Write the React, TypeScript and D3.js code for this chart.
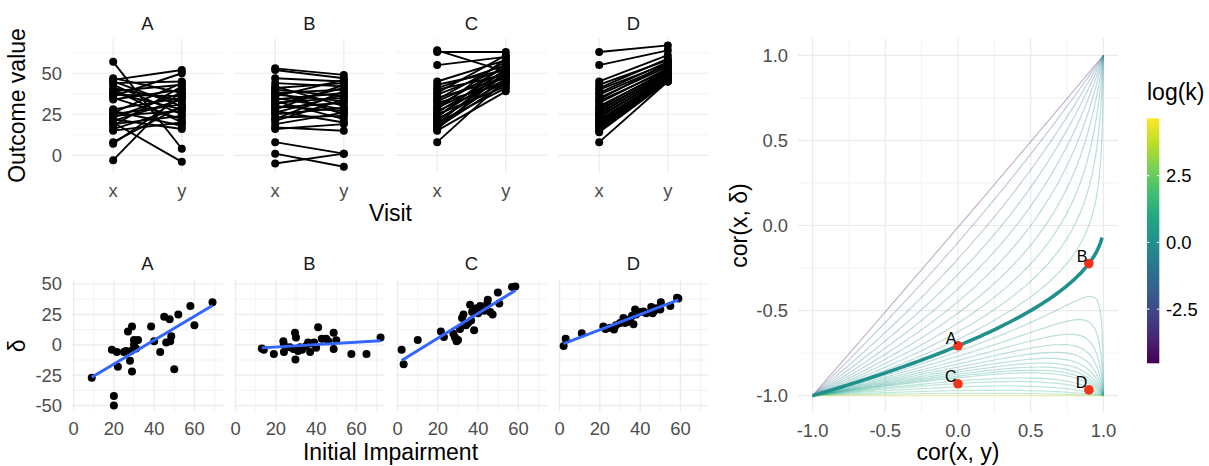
import React from "react";
import * as d3 from "d3";

// ---- data ----
const GROUPS = ["A", "B", "C", "D"];
const VISITS = ["x", "y"];

// top row: [visit x, visit y] per subject
const TOP_A = [[57, 4], [47, 38], [46, 52], [45, 30], [44, 45], [43, 25], [41, 33], [40, 20], [39, 43], [38, 28], [37, 36], [36, 50], [35, 22], [34, 40], [28, 35], [27, 18], [26, 44], [25, 31], [24, 27], [23, 38], [22, 16], [21, 34], [20, -4], [19, 24], [18, 42], [16, 29], [15, 20], [8, 30], [7, 36], [-3, 40]];
const TOP_B = [[53, 49], [52, 47], [47, 45], [44, 42], [42, 30], [41, 44], [40, 36], [39, 25], [38, 40], [37, 33], [36, 46], [35, 28], [34, 38], [33, 22], [32, 35], [31, 41], [30, 27], [29, 32], [28, 43], [27, 20], [26, 37], [25, 29], [23, 24], [22, 39], [21, 34], [19, 26], [17, 15], [16, 19], [8, 1], [1, -7], [-5, 1]];
const TOP_C = [[64, 51], [63, 63], [55, 60], [45, 58], [43, 52], [41, 55], [40, 49], [38, 61], [37, 53], [35, 47], [34, 57], [33, 51], [32, 44], [30, 54], [29, 48], [28, 59], [27, 46], [26, 52], [25, 42], [24, 50], [23, 56], [22, 45], [21, 49], [20, 41], [19, 53], [18, 47], [17, 44], [16, 51], [15, 39], [8, 46]];
const TOP_D = [[63, 67], [55, 64], [45, 61], [43, 58], [41, 59], [40, 56], [38, 57], [37, 55], [35, 54], [34, 56], [33, 52], [32, 53], [30, 51], [29, 52], [28, 50], [27, 51], [26, 49], [25, 50], [24, 48], [23, 49], [22, 47], [21, 48], [20, 47], [19, 46], [18, 47], [17, 46], [16, 45], [15, 46], [14, 45], [8, 45]];

// bottom row: [initial impairment, delta]
const BOT_A = [[9, -27], [20, -42], [20, -50], [19, -4], [21.5, -6], [22, -18], [27, 11], [29, 15], [26, -5], [28, -13], [29, -22], [30, 4], [31, -3], [28.5, -5], [38.5, 15], [40, 3], [43, -6], [45, 23], [47.7, 21], [46, 2], [48, 3], [48.5, 7], [50, -20], [52, 25], [58, 32], [60, 16], [69, 35], [32, 4], [30, 0], [25, -6]];
const BOT_B = [[13, -3], [14, -4], [19, -7.5], [23.7, 3], [24, -6], [24, 0], [29.5, 10], [30, 6], [29.7, -12], [28.7, -3.5], [32, -2], [33, -4], [36, 2], [37, -6], [38, 1], [40, -2.5], [41, 14.5], [42.8, 5], [45, 5], [46, 3], [48.7, 10], [48.7, -3.5], [50, 3.7], [57.5, -7.5], [65, -7.5], [72, 6], [27, -2], [35, -1], [31, -5], [39, 2]];
const BOT_C = [[2, -4], [3, -16], [10, 4], [21.5, 11], [23, 6.5], [27.7, 9], [28.5, 6], [29.3, 3], [31, 13], [32, 22], [32.7, 25], [34, 16], [35, 18], [36, 33], [36.5, 20], [38, 12], [39.3, 30], [41, 32], [43, 28], [44.8, 37], [44.5, 34], [46, 27], [47.2, 25], [49.8, 43], [50.5, 34], [56.8, 47.6], [58.5, 48], [30, 4], [37, 27], [40, 26]];
const BOT_D = [[2, -1], [3, 5], [11, 9.5], [21.7, 15], [22.8, 13], [25, 14], [27, 12.5], [28, 16], [30, 18], [31.7, 22], [32.5, 18], [33, 20], [35, 21], [36, 24], [36.7, 17], [37.5, 29], [38, 25], [40, 27], [41.7, 27.4], [43, 26], [45.5, 31], [46.2, 26], [47, 28], [48, 30], [50.3, 35], [50, 29], [55, 32], [58.3, 38.7], [59, 38], [34, 19]];

const TOP = [TOP_A, TOP_B, TOP_C, TOP_D];
const BOT = [BOT_A, BOT_B, BOT_C, BOT_D];

const TOP_Y_MAJOR = [0, 25, 50];
const TOP_Y_MINOR = [12.5, 37.5, 62.5];
const BOT_X_MAJOR = [0, 20, 40, 60];
const BOT_X_MINOR = [10, 30, 50, 70];
const BOT_Y_MAJOR = [-50, -25, 0, 25, 50];
const BOT_Y_MINOR = [-37.5, -12.5, 12.5, 37.5];

// right panel: ratio k of the two sds, one curve per k
const K_UPPER = [0.01, 0.1, 0.2, 0.3, 0.4, 0.5, 0.6, 0.7, 0.8, 0.9];
const K_LOWER = [1.1, 1.2, 1.3, 1.4, 1.5, 1.6, 1.7, 1.8, 1.9, 2.0, 2.25, 2.5, 3, 4, 6, 100];
const K_MAIN = 1;
const R_STEPS = d3.range(-1, 0.9, 0.02).concat([0.9, 0.92, 0.94, 0.95, 0.96, 0.97, 0.98, 0.985, 0.99, 0.995, 0.998, 1]);
const MARKED = [
  { label: "A", r: 0, c: -0.707 },
  { label: "B", r: 0.9, c: -0.224 },
  { label: "C", r: 0, c: -0.93 },
  { label: "D", r: 0.9, c: -0.966 },
];
const COR_TICKS = [-1, -0.5, 0, 0.5, 1];
const COR_MINOR = [-0.75, -0.25, 0.25, 0.75];
const LEGEND_TICKS = [2.5, 0, -2.5];
const LOGK_RANGE = [Math.log(0.01), Math.log(100)];

const FONT = "'Liberation Sans', Arial, Helvetica, sans-serif";
const GRID = "#EBEBEB";
const TICK_COL = "#4D4D4D";

const P_LEFT = 72;
const P_STEP = 162;
const P_W = 151;

// cor(x, y - x) when cor(x, y) = r and sd(x)/sd(y) = k
function corDelta(r, k) {
  return (r - k) / Math.sqrt(1 + k * k - 2 * r * k);
}

function fitLine(pts) {
  const mx = d3.mean(pts, (d) => d[0]);
  const my = d3.mean(pts, (d) => d[1]);
  let sxy = 0, sxx = 0;
  pts.forEach((d) => {
    sxy += (d[0] - mx) * (d[1] - my);
    sxx += (d[0] - mx) * (d[0] - mx);
  });
  const b = sxy / sxx;
  return (x) => my + b * (x - mx);
}

const fmt = (t) => d3.format(".1f")(t).replace("−", "-");

function TopPanel({ i }) {
  const left = P_LEFT + i * P_STEP;
  const x = d3.scalePoint().domain(VISITS).range([left, left + P_W]).padding(0.6);
  const y = d3.scaleLinear().domain([-10.5, 71.2]).range([172.5, 38.5]);
  const data = TOP[i];
  return (
    <g>
      {TOP_Y_MINOR.map((t) => (
        <line key={"m" + t} x1={left} x2={left + P_W} y1={y(t)} y2={y(t)} stroke={GRID} strokeWidth={0.6} />
      ))}
      {TOP_Y_MAJOR.map((t) => (
        <line key={"M" + t} x1={left} x2={left + P_W} y1={y(t)} y2={y(t)} stroke={GRID} strokeWidth={1.2} />
      ))}
      {VISITS.map((v) => (
        <line key={v} x1={x(v)} x2={x(v)} y1={38.5} y2={172.5} stroke={GRID} strokeWidth={1.2} />
      ))}
      {data.map((d, j) => (
        <line key={"l" + j} x1={x("x")} x2={x("y")} y1={y(d[0])} y2={y(d[1])} stroke="#000" strokeWidth={1.9} />
      ))}
      {data.map((d, j) => (
        <g key={"p" + j}>
          <circle cx={x("x")} cy={y(d[0])} r={4} fill="#000" />
          <circle cx={x("y")} cy={y(d[1])} r={4} fill="#000" />
        </g>
      ))}
      <text x={left + P_W / 2} y={30} textAnchor="middle" fontSize={18.4} fill="#1A1A1A">{GROUPS[i]}</text>
      {VISITS.map((v) => (
        <text key={"t" + v} x={x(v)} y={196.5} textAnchor="middle" fontSize={18.4} fill={TICK_COL}>{v}</text>
      ))}
      {i === 0 &&
        TOP_Y_MAJOR.map((t) => (
          <text key={"yt" + t} x={62} y={y(t)} dy="0.35em" textAnchor="end" fontSize={18.4} fill={TICK_COL}>{t}</text>
        ))}
    </g>
  );
}

function BottomPanel({ i }) {
  const left = P_LEFT + i * P_STEP;
  const x = d3.scaleLinear().domain([-0.8, 74.2]).range([left, left + P_W]);
  const y = d3.scaleLinear().domain([-55, 53.3]).range([411.7, 280]);
  const data = BOT[i];
  const f = fitLine(data);
  const [x0, x1] = d3.extent(data, (d) => d[0]);
  return (
    <g>
      {BOT_Y_MINOR.map((t) => (
        <line key={"ym" + t} x1={left} x2={left + P_W} y1={y(t)} y2={y(t)} stroke={GRID} strokeWidth={0.6} />
      ))}
      {BOT_X_MINOR.map((t) => (
        <line key={"xm" + t} x1={x(t)} x2={x(t)} y1={280} y2={411.7} stroke={GRID} strokeWidth={0.6} />
      ))}
      {BOT_Y_MAJOR.map((t) => (
        <line key={"yM" + t} x1={left} x2={left + P_W} y1={y(t)} y2={y(t)} stroke={GRID} strokeWidth={1.2} />
      ))}
      {BOT_X_MAJOR.map((t) => (
        <line key={"xM" + t} x1={x(t)} x2={x(t)} y1={280} y2={411.7} stroke={GRID} strokeWidth={1.2} />
      ))}
      {data.map((d, j) => (
        <circle key={j} cx={x(d[0])} cy={y(d[1])} r={4} fill="#000" />
      ))}
      <line x1={x(x0)} x2={x(x1)} y1={y(f(x0))} y2={y(f(x1))} stroke="#3366FF" strokeWidth={3} />
      <text x={left + P_W / 2} y={270} textAnchor="middle" fontSize={18.4} fill="#1A1A1A">{GROUPS[i]}</text>
      {BOT_X_MAJOR.map((t) => (
        <text key={"t" + t} x={x(t)} y={435} textAnchor="middle" fontSize={18.4} fill={TICK_COL}>{t}</text>
      ))}
      {i === 0 &&
        BOT_Y_MAJOR.map((t) => (
          <text key={"yt" + t} x={62} y={y(t)} dy="0.35em" textAnchor="end" fontSize={18.4} fill={TICK_COL}>{t}</text>
        ))}
    </g>
  );
}

function CorPanel() {
  const x = d3.scaleLinear().domain([-1.1, 1.1]).range([798, 1118]);
  const y = d3.scaleLinear().domain([-1.1, 1.1]).range([412.7, 38.3]);
  const color = d3.scaleSequential(d3.interpolateViridis).domain(LOGK_RANGE);
  const line = d3.line().x((d) => x(d[0])).y((d) => y(d[1]));
  const curve = (k, steps) => steps.map((r) => [r, r === 1 && k !== 1 ? Math.sign(1 - k) : corDelta(r, k)]);
  const thin = K_UPPER.concat(K_LOWER);
  const mainSteps = R_STEPS.filter((r) => r <= 0.99);
  return (
    <g>
      {COR_MINOR.map((t) => (
        <g key={"m" + t}>
          <line x1={798} x2={1118} y1={y(t)} y2={y(t)} stroke={GRID} strokeWidth={0.6} />
          <line x1={x(t)} x2={x(t)} y1={38.3} y2={412.7} stroke={GRID} strokeWidth={0.6} />
        </g>
      ))}
      {COR_TICKS.map((t) => (
        <g key={"M" + t}>
          <line x1={798} x2={1118} y1={y(t)} y2={y(t)} stroke={GRID} strokeWidth={1.2} />
          <line x1={x(t)} x2={x(t)} y1={38.3} y2={412.7} stroke={GRID} strokeWidth={1.2} />
        </g>
      ))}
      {thin.map((k) => (
        <path key={k} d={line(curve(k, R_STEPS))} fill="none" stroke={color(Math.log(k))} strokeOpacity={0.3} strokeWidth={1.2} />
      ))}
      <path d={line(curve(K_MAIN, mainSteps))} fill="none" stroke={color(Math.log(K_MAIN))} strokeWidth={3.6} />
      {MARKED.map((p) => (
        <g key={p.label}>
          <circle cx={x(p.r)} cy={y(p.c)} r={4.8} fill="#F5331B" />
          <text x={x(p.r) - 1.5} y={y(p.c) - 2} textAnchor="end" fontSize={16} fill="#000">{p.label}</text>
        </g>
      ))}
      {COR_TICKS.map((t) => (
        <g key={"t" + t}>
          <text x={788} y={y(t)} dy="0.35em" textAnchor="end" fontSize={18.4} fill={TICK_COL}>{fmt(t)}</text>
          <text x={x(t)} y={436.5} textAnchor="middle" fontSize={18.4} fill={TICK_COL}>{fmt(t)}</text>
        </g>
      ))}
      <text x={958} y={460} textAnchor="middle" fontSize={23} fill="#000">cor(x, y)</text>
      <text transform={`translate(747,225.5) rotate(-90)`} textAnchor="middle" fontSize={23} fill="#000">cor(x, δ)</text>
    </g>
  );
}

function Legend() {
  const top = 118.3;
  const bottom = 363.3;
  const x0 = 1147;
  const bw = 12.3;
  const s = d3.scaleLinear().domain([-4.53, 4.65]).range([bottom, top]);
  const stops = d3.range(0, 1.0001, 0.1);
  return (
    <g>
      <defs>
        <linearGradient id="vir" x1="0" y1="1" x2="0" y2="0">
          {stops.map((t) => (
            <stop key={t} offset={t} stopColor={d3.interpolateViridis(t)} />
          ))}
        </linearGradient>
      </defs>
      <text x={x0} y={100} fontSize={23} fill="#000">log(k)</text>
      <rect x={x0} y={top} width={bw} height={bottom - top} fill="url(#vir)" />
      {LEGEND_TICKS.map((t) => (
        <g key={t}>
          <line x1={x0} x2={x0 + 2.5} y1={s(t)} y2={s(t)} stroke="#fff" strokeWidth={1} />
          <line x1={x0 + bw - 2.5} x2={x0 + bw} y1={s(t)} y2={s(t)} stroke="#fff" strokeWidth={1} />
          <text x={1166} y={s(t)} dy="0.35em" fontSize={18.4} fill="#000">{fmt(t)}</text>
        </g>
      ))}
    </g>
  );
}

export default function App() {
  return (
    <svg width={1209} height={466} style={{ position: "absolute", left: 0, top: 0, background: "#fff" }} fontFamily={FONT}>
      {GROUPS.map((g, i) => (
        <TopPanel key={"top" + g} i={i} />
      ))}
      {GROUPS.map((g, i) => (
        <BottomPanel key={"bot" + g} i={i} />
      ))}
      <text transform="translate(25,105.5) rotate(-90)" textAnchor="middle" fontSize={23} fill="#000">Outcome value</text>
      <text x={390.5} y={221} textAnchor="middle" fontSize={23} fill="#000">Visit</text>
      <text transform="translate(25,345.8) rotate(-90)" textAnchor="middle" fontSize={23} fill="#000">δ</text>
      <text x={390.5} y={460} textAnchor="middle" fontSize={23} fill="#000">Initial Impairment</text>
      <CorPanel />
      <Legend />
    </svg>
  );
}
